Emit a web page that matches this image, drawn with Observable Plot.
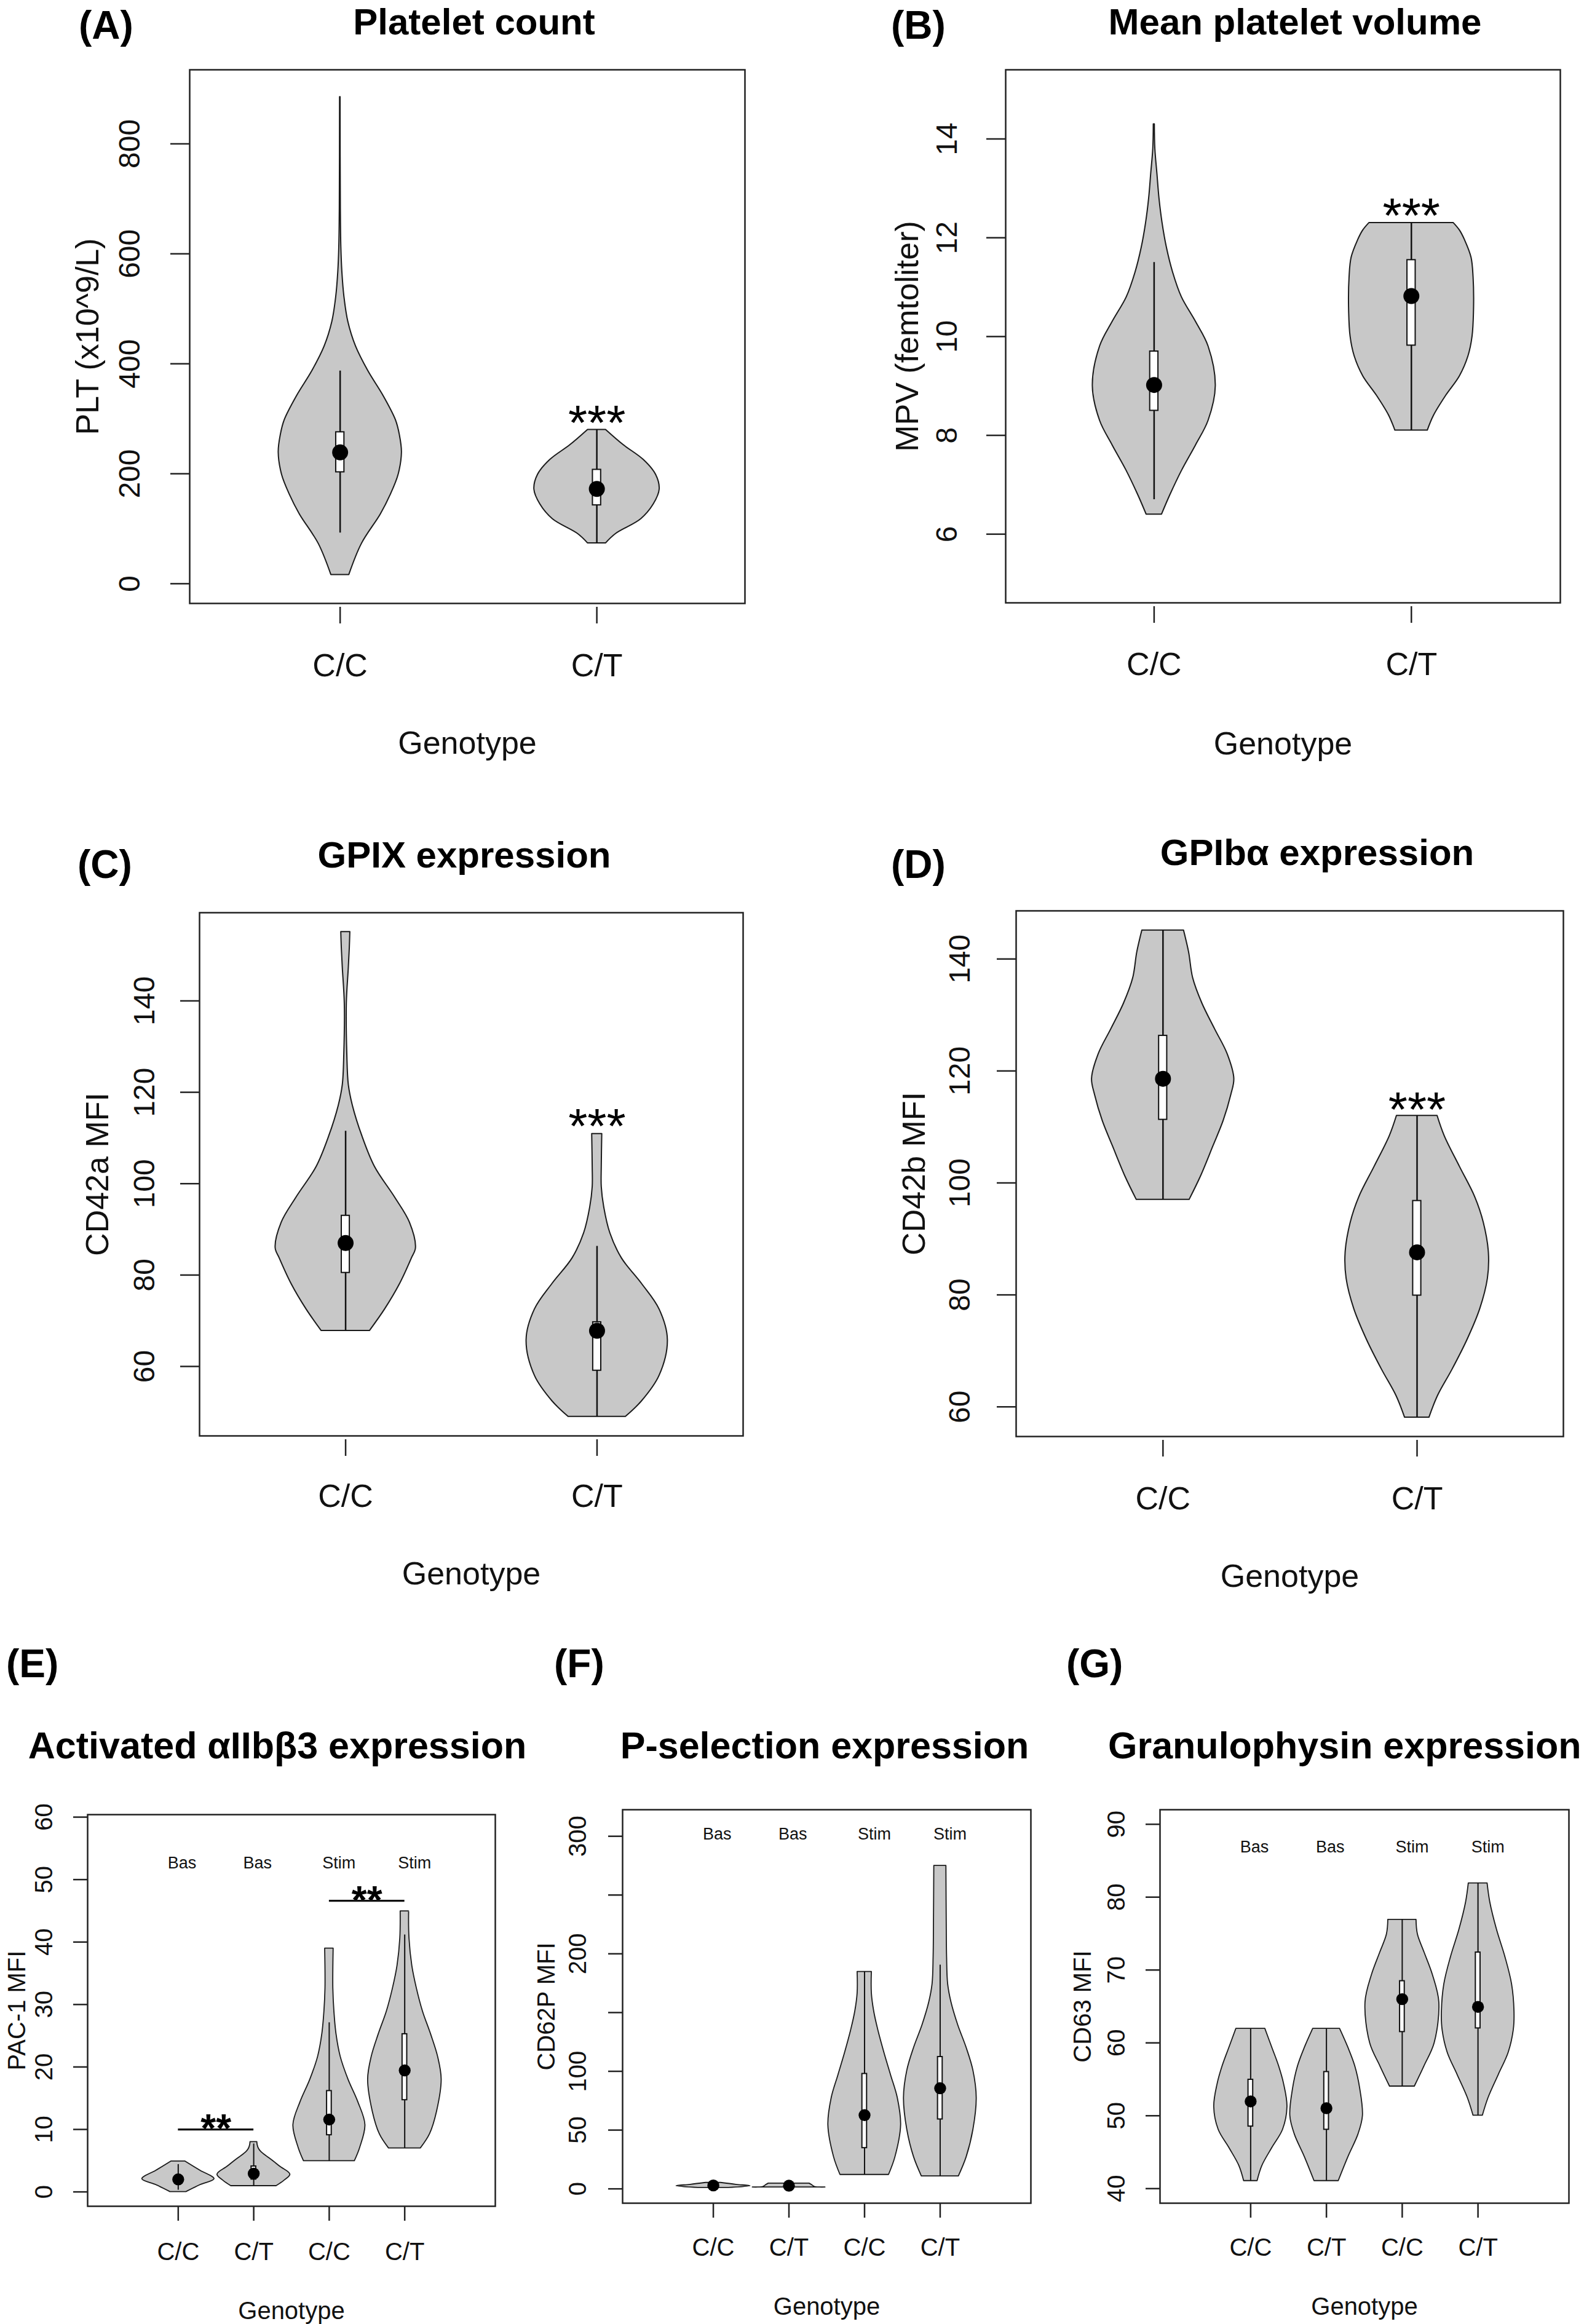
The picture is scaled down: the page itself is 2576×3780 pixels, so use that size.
<!DOCTYPE html>
<html><head><meta charset="utf-8">
<script src="https://cdn.jsdelivr.net/npm/d3@7"></script>
<script src="https://cdn.jsdelivr.net/npm/@observablehq/plot@0.6"></script>
<style>
body{margin:0;background:#fff;}
#page{position:relative;width:2576px;height:3780px;background:#fff;overflow:hidden;font-family:"Liberation Sans",Arial,Helvetica,sans-serif;}
#overlay{position:absolute;left:0;top:0;}
</style></head><body><div id="page"></div>
<script>
// ---------------- DATA ----------------
const genoAD = ["C/C", "C/T"];
const posAD = [1, 2];
const genoEG = ["C/C", "C/T", "C/C", "C/T"];
const posEG = [1, 2, 3, 4];
const condLabels = ["Bas", "Bas", "Stim", "Stim"];
const condX = [1.05, 2.05, 3.13, 4.13];

// violin outlines: [value, half-width in group units]
// (A) Platelet count
const A_CC = [[16.2,0.035],[72.7,0.084],[126.6,0.158],[162.5,0.197],[198.4,0.227],[238.8,0.240],[270.3,0.232],[297.2,0.217],[342.1,0.168],[387.0,0.109],[431.9,0.061],[476.8,0.031],[521.7,0.016],[566.6,0.008],[611.5,0.004],[683,0.002],[885.3,0.001]];
const A_CT = [[73.6,0.035],[90.7,0.074],[117.6,0.172],[144.6,0.221],[171.5,0.244],[198.4,0.230],[225.4,0.182],[252.3,0.104],[280.1,0.035]];
const A_lo = [92.5, 73.6], A_hi = [387.0, 280.1], A_q1 = [202.9, 142.8], A_q3 = [275.7, 207.4], A_med = [238.8, 172.4];
const A_yTicks = [0, 200, 400, 600, 800];
const A_starX = [2], A_starY = [314], A_starText = ["***"];

// (B) Mean platelet volume
const B_CC = [[6.4,0.030],[6.8,0.063],[7.3,0.109],[7.8,0.162],[8.3,0.211],[9.0,0.239],[9.8,0.211],[10.3,0.162],[10.8,0.107],[11.3,0.073],[11.8,0.049],[12.3,0.032],[12.8,0.020],[13.3,0.012],[13.8,0.004],[14.3,0.002]];
const B_CT = [[8.1,0.063],[8.4,0.087],[8.8,0.134],[9.2,0.188],[9.6,0.221],[10.0,0.237],[10.6,0.243],[11.2,0.241],[11.6,0.233],[11.95,0.208],[12.15,0.188],[12.3,0.164]];
const B_lo = [6.7, 8.1], B_hi = [11.5, 12.3], B_q1 = [8.5, 9.82], B_q3 = [9.7, 11.55], B_med = [9.02, 10.82];
const B_yTicks = [6, 8, 10, 12, 14];
const B_starX = [2], B_starY = [12.69], B_starText = ["***"];

// (C) GPIX expression
const C_CC = [[67.8,0.096],[72.5,0.156],[78.1,0.216],[83.7,0.263],[85.9,0.279],[91.5,0.255],[97.0,0.196],[103.7,0.116],[110.4,0.066],[117.1,0.028],[121.6,0.012],[128.3,0.006],[139.4,0.004],[147.3,0.012],[151.7,0.016],[155.1,0.018]];
const C_CT = [[49.0,0.114],[52.4,0.178],[58.0,0.248],[65.8,0.281],[72.5,0.248],[78.1,0.178],[83.7,0.098],[89.2,0.052],[94.8,0.028],[99.3,0.018],[103.7,0.018],[110.9,0.020]];
const C_lo = [67.8, 49.0], C_hi = [111.5, 86.3], C_q1 = [80.5, 59.1], C_q3 = [93.0, 69.7], C_med = [87.0, 67.8];
const C_yTicks = [60, 80, 100, 120, 140];
const C_starX = [2], C_starY = [115.2], C_starText = ["***"];

// (D) GPIbα expression
const D_CC = [[97.0,0.104],[101.1,0.148],[106.6,0.198],[111.1,0.238],[115.7,0.268],[118.6,0.280],[123.0,0.254],[127.5,0.204],[132.1,0.154],[136.6,0.118],[141.2,0.102],[145.1,0.082]];
const D_CT = [[58.1,0.048],[62.0,0.082],[66.6,0.138],[72.0,0.198],[77.5,0.248],[82.9,0.278],[87.5,0.282],[92.9,0.262],[97.5,0.228],[102.9,0.168],[108.4,0.108],[112.0,0.080]];
const D_lo = [97.0, 58.1], D_hi = [145.1, 112.0], D_q1 = [111.3, 79.9], D_q3 = [126.3, 96.8], D_med = [118.6, 87.6];
const D_yTicks = [60, 80, 100, 120, 140];
const D_starX = [2], D_starY = [115.2], D_starText = ["***"];

// (E) Activated αIIbβ3 expression
const E_1 = [[0,0.106],[1.12,0.293],[2.07,0.478],[3.41,0.293],[4.9,0.09]];
const E_2 = [[0.95,0.30],[1.77,0.40],[2.8,0.483],[4.07,0.348],[5.06,0.245],[5.71,0.171],[6.4,0.10],[6.85,0.07],[7.5,0.05],[8.0,0.045]];
const E_3 = [[4.95,0.337],[7.06,0.407],[10.71,0.477],[14.35,0.384],[17.99,0.253],[21.63,0.150],[25.27,0.094],[28.91,0.066],[32.56,0.052],[38.97,0.056]];
const E_4 = [[6.99,0.211],[9.25,0.332],[12.89,0.426],[17.99,0.487],[21.63,0.440],[25.27,0.346],[28.91,0.239],[32.56,0.159],[36.2,0.098],[40.57,0.061],[44.94,0.056]];
const E_lo = [0.3, 0.95, 4.95, 6.99], E_hi = [4.4, 7.7, 27.1, 41.15], E_q1 = [1.5, 2.0, 9.10, 14.71], E_q3 = [2.6, 4.1, 16.17, 25.27], E_med = [2.0, 2.92, 11.58, 19.45];
const E_yTicks = [0, 10, 20, 30, 40, 50, 60];
const E_condY = 52.6;
const E_starX = [1.5, 3.5], E_starY = [11.6, 48.2], E_starText = ["**", "**"];
const E_sigY = [10.0, 46.6], E_sigX1 = [1, 3], E_sigX2 = [2, 4];

// (F) P-selection expression
const F_1 = [[0.9,0.2],[2.4,0.49],[3.6,0.3],[5.2,0.1]];
const F_2 = [[1.3,0.48],[1.8,0.34],[3.5,0.3],[4.6,0.27]];
const F_3 = [[12.0,0.321],[27.1,0.406],[54.2,0.481],[77.4,0.437],[96.8,0.348],[116.1,0.259],[135.5,0.178],[151.0,0.125],[166.5,0.094],[184.7,0.094]];
const F_4 = [[10.8,0.245],[27.1,0.348],[50.3,0.437],[77.4,0.481],[100.7,0.437],[120.0,0.348],[139.4,0.236],[158.7,0.147],[174.2,0.103],[197.4,0.089],[220.7,0.085],[274.9,0.080]];
const F_lo = [1.0, 1.3, 12.0, 10.8], F_hi = [5.0, 4.6, 184.7, 190.5], F_q1 = [2.0, 1.8, 34.8, 59.2], F_q3 = [4.0, 3.6, 97.9, 112.3], F_med = [2.9, 2.7, 62.7, 85.6];
const F_yTicks = [0, 50, 100, 150, 200, 250, 300];
const F_yTickLabels = [0, 50, 100, 200, 300];
const F_condY = 302;

// (G) Granulophysin expression
const G_1 = [[41.06,0.089],[43.12,0.151],[45.61,0.284],[48.10,0.425],[51.22,0.483],[54.34,0.439],[56.83,0.372],[59.33,0.284],[61.95,0.191]];
const G_2 = [[41.06,0.160],[44.36,0.288],[47.48,0.421],[49.98,0.479],[53.72,0.443],[56.83,0.377],[59.33,0.288],[61.95,0.177]];
const G_3 = [[54.03,0.164],[56.83,0.292],[59.95,0.425],[65.56,0.487],[69.30,0.403],[72.42,0.292],[74.91,0.204],[76.91,0.186]];
const G_4 = [[50.04,0.062],[52.47,0.137],[55.59,0.270],[58.70,0.403],[61.82,0.470],[64.31,0.479],[68.05,0.447],[71.80,0.359],[75.54,0.248],[79.28,0.160],[81.90,0.124]];
const G_lo = [41.06, 41.06, 54.03, 50.04], G_hi = [61.95, 61.95, 76.91, 81.9], G_q1 = [48.54, 48.10, 61.51, 62.01], G_q3 = [54.96, 56.02, 68.49, 72.42], G_med = [51.97, 51.03, 66.0, 64.94];
const G_yTicks = [40, 50, 60, 70, 80, 90];
const G_condY = 86.9;

// ---------------- RENDER ----------------
const page = document.getElementById("page");
const FONT = "'Liberation Sans', Arial, Helvetica, sans-serif";
const VIOLIN_FILL = "#c8c8c8";

function panel(c) {
  const ML = c.ml, MT = 40, MR = 30, MB = c.mb;
  const W = c.box.R - c.box.L + ML + MR;
  const H = c.box.B - c.box.T + MT + MB;
  const rows = c.violins.flatMap((v, i) => v.map(([y, w]) => ({g: i, pos: c.pos[i], y, w})));
  const stats = c.pos.map((p, i) => ({p, lo: c.lo[i], hi: c.hi[i], q1: c.q1[i], q3: c.q3[i], med: c.med[i]}));
  const marks = [
    Plot.areaX(rows, {y: "y", x1: d => d.pos - d.w, x2: d => d.pos + d.w, z: "g", fill: VIOLIN_FILL, stroke: "#1a1a1a", strokeWidth: c.outlineW, curve: "catmull-rom"}),
    Plot.ruleX(stats, {x: "p", y1: "lo", y2: "hi", stroke: "#111", strokeWidth: c.whiskerW}),
    Plot.rect(stats, {x1: d => d.p - c.boxHW, x2: d => d.p + c.boxHW, y1: "q1", y2: "q3", fill: "white", stroke: "#111", strokeWidth: 2}),
    Plot.dot(stats, {x: "p", y: "med", r: c.dotR, fill: "#000", stroke: null}),
    Plot.frame({stroke: "#222", strokeWidth: 2.5}),
    Plot.axisY({ticks: c.yTicks, tickSize: c.yTickSize, tickFormat: () => "", label: null, stroke: "#222", strokeWidth: 2.5}),
    Plot.axisX({ticks: c.pos, tickSize: c.xTickSize, tickFormat: () => "", label: null, stroke: "#222", strokeWidth: 2.5, dy: c.xTickGap}),
    Plot.text(c.yLabels, {y: d => d, text: d => String(d), frameAnchor: "left", dx: -c.yTickOff, rotate: -90, textAnchor: "middle", lineAnchor: "middle", fontSize: c.tickFont, fill: "#111"}),
    Plot.text(c.pos, {x: d => d, text: (d, i) => c.xLabels[i], frameAnchor: "bottom", dy: c.xTickOff, lineAnchor: "middle", fontSize: c.xFont, fill: "#111"}),
    Plot.text([c.yTitle], {text: d => d, frameAnchor: "left", dx: -c.yLabOff, rotate: -90, textAnchor: "middle", lineAnchor: "middle", fontSize: c.labFont, fill: "#111"}),
    Plot.text(["Genotype"], {text: d => d, frameAnchor: "bottom", dy: c.genOff, lineAnchor: "middle", fontSize: c.labFont, fill: "#111"})
  ];
  if (c.starX) marks.push(Plot.text(c.starX, {x: d => d, y: (d, i) => c.starY[i], text: (d, i) => c.starText[i], fontSize: c.starFont, fontWeight: c.starWeight, lineAnchor: "middle", dy: 0.26 * c.starFont, fill: "#000"}));
  if (c.sigY) marks.push(Plot.ruleY(c.sigY, {y: d => d, x1: (d, i) => c.sigX1[i], x2: (d, i) => c.sigX2[i], stroke: "#111", strokeWidth: 3.3}));
  if (c.condY !== undefined) marks.push(Plot.text(condX, {x: d => d, y: () => c.condY, text: (d, i) => condLabels[i], fontSize: 27, lineAnchor: "middle", fill: "#111"}));
  const svg = Plot.plot({
    width: W, height: H,
    marginLeft: ML, marginTop: MT, marginRight: MR, marginBottom: MB,
    x: {domain: c.xDomain, label: null},
    y: {domain: c.yDomain, label: null},
    style: `background:transparent;overflow:visible;font-family:${FONT};color:#111;max-width:none;`,
    marks
  });
  svg.style.position = "absolute";
  svg.style.left = (c.box.L - ML) + "px";
  svg.style.top = (c.box.T - MT) + "px";
  page.appendChild(svg);
}

const AD = {pos: posAD, xLabels: genoAD, ml: 220, mb: 270, outlineW: 2, whiskerW: 2.5, boxHW: 0.016, dotR: 13,
  yTickSize: 31, xTickSize: 27, xTickGap: 6, tickFont: 48, xFont: 52, labFont: 52, starFont: 80, starWeight: "normal"};
const EG = {pos: posEG, xLabels: genoEG, mb: 200, outlineW: 1.8, whiskerW: 2, boxHW: 0.031, dotR: 9.7,
  yTickSize: 23, xTickSize: 24, xTickGap: 0, tickFont: 40, xFont: 40, labFont: 40, starFont: 64, starWeight: "bold"};

panel({...AD, box: {L: 308, T: 113, R: 1211, B: 981}, xDomain: [0.414, 2.577], yDomain: [-35.9, 934.7],
  violins: [A_CC, A_CT], lo: A_lo, hi: A_hi, q1: A_q1, q3: A_q3, med: A_med,
  yTicks: A_yTicks, yLabels: A_yTicks, yTitle: "PLT (x10^9/L)",
  yTickOff: 97, yLabOff: 165, xTickOff: 101.5, genOff: 228,
  starX: A_starX, starY: A_starY, starText: A_starText});
panel({...AD, box: {L: 1635, T: 113, R: 2537, B: 980}, xDomain: [0.423, 2.579], yDomain: [4.61, 15.40],
  violins: [B_CC, B_CT], lo: B_lo, hi: B_hi, q1: B_q1, q3: B_q3, med: B_med,
  yTicks: B_yTicks, yLabels: B_yTicks, yTitle: "MPV (femtoliter)",
  yTickOff: 95, yLabOff: 159, xTickOff: 101, genOff: 230,
  starX: B_starX, starY: B_starY, starText: B_starText});
panel({...AD, box: {L: 324, T: 1484, R: 1208, B: 2335}, xDomain: [0.419, 2.581], yDomain: [44.8, 159.3],
  violins: [C_CC, C_CT], lo: C_lo, hi: C_hi, q1: C_q1, q3: C_q3, med: C_med,
  yTicks: C_yTicks, yLabels: C_yTicks, yTitle: "CD42a MFI",
  yTickOff: 89, yLabOff: 165, xTickOff: 99, genOff: 225,
  starX: C_starX, starY: C_starY, starText: C_starText});
panel({...AD, box: {L: 1652, T: 1481, R: 2542, B: 2336}, xDomain: [0.422, 2.576], yDomain: [54.7, 148.6],
  violins: [D_CC, D_CT], lo: D_lo, hi: D_hi, q1: D_q1, q3: D_q3, med: D_med,
  yTicks: D_yTicks, yLabels: D_yTicks, yTitle: "CD42b MFI",
  yTickOff: 91, yLabOff: 165, xTickOff: 101.5, genOff: 228,
  starX: D_starX, starY: D_starY, starText: D_starText});
panel({...EG, ml: 142, box: {L: 142, T: 2951, R: 805, B: 3588}, xDomain: [-0.2, 5.2], yDomain: [-2.3, 60.4],
  violins: [E_1, E_2, E_3, E_4], lo: E_lo, hi: E_hi, q1: E_q1, q3: E_q3, med: E_med,
  yTicks: E_yTicks, yLabels: E_yTicks, yTitle: "PAC-1 MFI",
  yTickOff: 70, yLabOff: 114, xTickOff: 75, genOff: 171, condY: E_condY,
  starX: E_starX, starY: E_starY, starText: E_starText, sigY: E_sigY, sigX1: E_sigX1, sigX2: E_sigX2});
panel({...EG, ml: 160, box: {L: 1012, T: 2943, R: 1676, B: 3583}, xDomain: [-0.2, 5.2], yDomain: [-12.2, 322.6],
  violins: [F_1, F_2, F_3, F_4], lo: F_lo, hi: F_hi, q1: F_q1, q3: F_q3, med: F_med,
  yTicks: F_yTicks, yLabels: F_yTickLabels, yTitle: "CD62P MFI",
  yTickOff: 72, yLabOff: 123, xTickOff: 72.7, genOff: 169, condY: F_condY});
panel({...EG, ml: 160, box: {L: 1886, T: 2943, R: 2551, B: 3583}, xDomain: [-0.196, 5.2], yDomain: [38.0, 92.0],
  violins: [G_1, G_2, G_3, G_4], lo: G_lo, hi: G_hi, q1: G_q1, q3: G_q3, med: G_med,
  yTicks: G_yTicks, yLabels: G_yTicks, yTitle: "CD63 MFI",
  yTickOff: 70.5, yLabOff: 125, xTickOff: 72.7, genOff: 169, condY: G_condY});

// ---------------- TITLES & PANEL LETTERS ----------------
const titles = [
  {t: "(A)", x: 128, y: 63, a: "start", s: 64},
  {t: "(B)", x: 1449, y: 63, a: "start", s: 64},
  {t: "(C)", x: 126, y: 1428, a: "start", s: 64},
  {t: "(D)", x: 1449, y: 1428, a: "start", s: 64},
  {t: "(E)", x: 10, y: 2728, a: "start", s: 64},
  {t: "(F)", x: 901, y: 2728, a: "start", s: 64},
  {t: "(G)", x: 1734, y: 2728, a: "start", s: 64},
  {t: "Platelet count", x: 771, y: 56, a: "middle", s: 60},
  {t: "Mean platelet volume", x: 2106, y: 56, a: "middle", s: 60},
  {t: "GPIX expression", x: 755, y: 1411, a: "middle", s: 60},
  {t: "GPIbα expression", x: 2142, y: 1407, a: "middle", s: 60},
  {t: "Activated αIIbβ3 expression", x: 451, y: 2860, a: "middle", s: 61},
  {t: "P-selection expression", x: 1341, y: 2860, a: "middle", s: 61},
  {t: "Granulophysin expression", x: 1802, y: 2860, a: "start", s: 61}
];
const ov = d3.create("svg").attr("id", "overlay").attr("width", 2576).attr("height", 3780)
  .style("font-family", FONT);
ov.selectAll("text").data(titles).join("text")
  .attr("x", d => d.x).attr("y", d => d.y).attr("text-anchor", d => d.a)
  .attr("font-size", d => d.s).attr("font-weight", "bold").attr("fill", "#000")
  .text(d => d.t);
page.appendChild(ov.node());
</script></body></html>
